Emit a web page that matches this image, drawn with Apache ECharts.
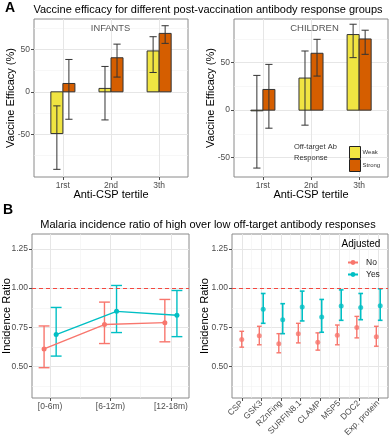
<!DOCTYPE html>
<html><head><meta charset="utf-8">
<script src="https://cdn.jsdelivr.net/npm/echarts@6/dist/echarts.min.js"></script>
<style>html,body{margin:0;padding:0;background:#fff}#c{width:390px;height:440px}</style>
</head><body><div id="c"></div>
<script>
// ---------- DATA ----------
const tertiles = ['1rst', '2nd', '3th'];
const infantsWeak = [-49, 4, 48];
const infantsWeakLow = [-91, -33, 22.7];
const infantsWeakHigh = [-16.5, 29.8, 64.7];
const infantsStrong = [9.8, 40, 68.6];
const infantsStrongLow = [-32.2, 17.3, 56.9];
const infantsStrongHigh = [38, 56, 77.6];
const childrenWeak = [-0.7, 33.8, 79.6];
const childrenWeakLow = [-61, -15.8, 55.3];
const childrenWeakHigh = [36.6, 62.3, 90.5];
const childrenStrong = [21.8, 59.9, 75];
const childrenStrongLow = [-19, 35.9, 58.8];
const childrenStrongHigh = [48.2, 74.6, 84.2];
const efficacyTicks = [-50, 0, 50];
const efficacyMinorTicks = [-75, -25, 25, 75];

const periods = ['[0-6m)', '[6-12m)', '[12-18m)'];
const periodNo = [0.613, 0.768, 0.780];
const periodNoLow = [0.493, 0.647, 0.658];
const periodNoHigh = [0.759, 0.911, 0.928];
const periodYes = [0.704, 0.852, 0.827];
const periodYesLow = [0.567, 0.717, 0.691];
const periodYesHigh = [0.877, 1.017, 0.985];

const antigens = ['CSP', 'GSK3', 'RZnFing', 'SURFIN8.1', 'CLAMP', 'MSP5', 'DOC2', 'Exp. protein'];
const antigenNo = [0.672, 0.696, 0.645, 0.710, 0.656, 0.700, 0.749, 0.691];
const antigenNoLow = [0.624, 0.639, 0.588, 0.651, 0.605, 0.639, 0.683, 0.630];
const antigenNoHigh = [0.725, 0.757, 0.710, 0.776, 0.715, 0.765, 0.820, 0.757];
const antigenYes = [null, 0.865, 0.799, 0.880, 0.816, 0.886, 0.877, 0.888];
const antigenYesLow = [null, 0.776, 0.710, 0.791, 0.719, 0.795, 0.799, 0.795];
const antigenYesHigh = [null, 0.966, 0.901, 0.981, 0.928, 0.989, 0.966, 0.996];
const ratioTicks = [0.50, 0.75, 1.00, 1.25];
const ratioMinorTicks = [0.375, 0.625, 0.875, 1.125];
const referenceRatio = 1.0;

// ---------- STYLE ----------
const FF = '"Liberation Sans", Arial, Helvetica, sans-serif';
const WEAK = '#F0E442', STRONG = '#D55E00', NO = '#F8766D', YES = '#00BFC4';
const MAJOR = '#e6e6e6', MINOR = '#f2f2f2', TICKC = '#4d4d4d', LABC = '#4d4d4d';

const pos = (arr) => arr.map((_, i) => i + 1);
const half = (arr) => arr.slice(1).map((_, i) => i + 1.5);

function barRender(hw) {
  return function (params, api) {
    const x = api.value(0), v = api.value(1);
    const p0 = api.coord([x - hw, 0]);
    const p1 = api.coord([x + hw, v]);
    return {
      type: 'rect',
      shape: { x: Math.min(p0[0], p1[0]), y: Math.min(p0[1], p1[1]),
               width: Math.abs(p1[0] - p0[0]), height: Math.max(Math.abs(p1[1] - p0[1]), 0.5) },
      style: { fill: api.visual('color'), stroke: '#333', lineWidth: 1 }
    };
  };
}
function errRender(cap, color, lw) {
  return function (params, api) {
    const x = api.value(0), lo = api.value(1), hi = api.value(2);
    const a = api.coord([x, lo]), b = api.coord([x, hi]);
    const l1 = api.coord([x - cap, lo]), r1 = api.coord([x + cap, lo]);
    const l2 = api.coord([x - cap, hi]), r2 = api.coord([x + cap, hi]);
    const st = { stroke: color, lineWidth: lw };
    return { type: 'group', children: [
      { type: 'line', shape: { x1: a[0], y1: a[1], x2: b[0], y2: b[1] }, style: st },
      { type: 'line', shape: { x1: l1[0], y1: l1[1], x2: r1[0], y2: r1[1] }, style: st },
      { type: 'line', shape: { x1: l2[0], y1: l2[1], x2: r2[0], y2: r2[1] }, style: st }
    ] };
  };
}

function valueX(gridIndex, min, max, ticks, labels, extra) {
  return Object.assign({
    type: 'value', gridIndex, min, max, position: 'bottom',
    axisLine: { show: false, onZero: false },
    axisTick: { show: true, length: 3, customValues: ticks, lineStyle: { color: TICKC } },
    axisLabel: { customValues: ticks, margin: 4, fontSize: 8.5, color: LABC, fontFamily: FF,
                 formatter: v => labels[Math.round(v) - 1] },
    splitLine: { show: true, lineStyle: { color: MAJOR, width: 1 } }
  }, extra || {});
}
function minorX(gridIndex, min, max, ticks) {
  return { type: 'value', gridIndex, min, max, position: 'bottom',
    axisLine: { show: false, onZero: false }, axisTick: { show: false, customValues: ticks },
    axisLabel: { show: false, customValues: ticks },
    splitLine: { show: true, lineStyle: { color: MINOR, width: 0.6 } } };
}
function valueY(gridIndex, min, max, ticks, fmt, name, nameGap) {
  return {
    type: 'value', gridIndex, min, max, position: 'left', name, nameLocation: 'middle', nameGap,
    nameMoveOverlap: false,
    nameTextStyle: { fontSize: 11, color: '#000', fontFamily: FF },
    axisLine: { show: false, onZero: false },
    axisTick: { show: true, length: 3, customValues: ticks, lineStyle: { color: TICKC } },
    axisLabel: { customValues: ticks, margin: 4, fontSize: 8.5, color: LABC, fontFamily: FF, formatter: fmt },
    splitLine: { show: true, lineStyle: { color: MAJOR, width: 1 } }
  };
}
function minorY(gridIndex, min, max, ticks) {
  return { type: 'value', gridIndex, min, max, position: 'left',
    axisLine: { show: false, onZero: false }, axisTick: { show: false, customValues: ticks },
    axisLabel: { show: false, customValues: ticks },
    splitLine: { show: true, lineStyle: { color: MINOR, width: 0.6 } } };
}

const gridStyle = { show: true, borderColor: '#8a8a8a', borderWidth: 1, backgroundColor: 'transparent' };
const effFmt = v => String(v);
const ratioFmt = v => v.toFixed(2);

function barSeries(name, xi, yi, vals, off, color) {
  return { type: 'custom', name, xAxisIndex: xi, yAxisIndex: yi, renderItem: barRender(0.125),
    itemStyle: { color }, encode: { x: 0, y: 1 }, z: 2,
    data: vals.map((v, i) => [i + 1 + off, v]) };
}
function errSeries(xi, yi, lo, hi, off, cap, color, lw, offFn) {
  const data = [];
  lo.forEach((l, i) => { if (l != null) data.push([i + 1 + (offFn ? offFn(i) : off), l, hi[i]]); });
  return { type: 'custom', xAxisIndex: xi, yAxisIndex: yi, renderItem: errRender(cap, color, lw),
    encode: { x: 0, y: [1, 2] }, z: 3, silent: true, data };
}

const noOff = i => (antigenYes[i] == null ? 0 : -0.1);
const axisName = { nameLocation: 'middle', nameGap: 12, nameMoveOverlap: false,
  nameTextStyle: { fontSize: 11, color: '#000', fontFamily: FF } };

const option = {
  animation: false,
  textStyle: { fontFamily: FF },
  grid: [
    Object.assign({ left: 34, top: 19, width: 154, height: 158 }, gridStyle),
    Object.assign({ left: 234, top: 19, width: 154, height: 158 }, gridStyle),
    Object.assign({ left: 32, top: 234, width: 157, height: 164 }, gridStyle),
    Object.assign({ left: 232, top: 234, width: 156, height: 164 }, gridStyle)
  ],
  xAxis: [
    valueX(0, 0.4, 3.6, pos(tertiles), tertiles, Object.assign({ name: 'Anti-CSP tertile' }, axisName)),
    valueX(1, 0.4, 3.6, pos(tertiles), tertiles, Object.assign({ name: 'Anti-CSP tertile' }, axisName)),
    valueX(2, 0.7, 3.3, pos(periods), periods),
    (function () { const a = valueX(3, 0.5, 8.5, pos(antigens), antigens);
      a.axisLabel.rotate = 45; return a; })(),
    minorX(2, 0.7, 3.3, half(periods)),
    minorX(3, 0.5, 8.5, half(antigens))
  ],
  yAxis: [
    minorY(0, -100, 85.5, efficacyMinorTicks),
    valueY(0, -100, 85.5, efficacyTicks, effFmt, 'Vaccine Efficacy (%)', 17.5),
    minorY(1, -70.4, 96, efficacyMinorTicks),
    valueY(1, -70.4, 96, efficacyTicks, effFmt, 'Vaccine Efficacy (%)', 17.5),
    minorY(2, 0.30, 1.345, ratioMinorTicks),
    valueY(2, 0.30, 1.345, ratioTicks, ratioFmt, 'Incidence Ratio', 19.5),
    minorY(3, 0.30, 1.345, ratioMinorTicks),
    valueY(3, 0.30, 1.345, ratioTicks, ratioFmt, 'Incidence Ratio', 21.5)
  ],
  legend: [
    { orient: 'vertical', left: 344, top: 141, itemWidth: 11, itemHeight: 12, itemGap: 0,
      selectedMode: false, icon: 'rect',
      textStyle: { fontSize: 6, color: '#333', fontFamily: FF, padding: [0, 0, 0, -3] },
      data: [
        { name: 'Weak', itemStyle: { color: WEAK, borderColor: '#222', borderWidth: 1 } },
        { name: 'Strong', itemStyle: { color: STRONG, borderColor: '#222', borderWidth: 1 } }
      ] },
    { orient: 'vertical', left: 342, top: 253, itemWidth: 10, itemHeight: 6, itemGap: 3,
      selectedMode: false,
      textStyle: { fontSize: 8.5, color: '#222', fontFamily: FF, padding: [0, 0, 0, 3] },
      data: ['No', 'Yes'] }
  ],
  graphic: [
    { type: 'text', z: 100, x: 5, y: 8, style: { text: 'A', font: 'bold 14px ' + FF, fill: '#000', align: 'left', verticalAlign: 'middle' } },
    { type: 'text', z: 100, x: 208, y: 9.5, style: { text: 'Vaccine efficacy for different post-vaccination antibody response groups', font: '11px ' + FF, fill: '#000', align: 'center', verticalAlign: 'middle' } },
    { type: 'text', z: 100, x: 110.5, y: 28.5, style: { text: 'INFANTS', font: '9.3px ' + FF, fill: '#555', align: 'center', verticalAlign: 'middle' } },
    { type: 'text', z: 100, x: 314.5, y: 28.5, style: { text: 'CHILDREN', font: '9.5px ' + FF, fill: '#555', align: 'center', verticalAlign: 'middle' } },
    { type: 'text', z: 100, x: 294, y: 146.5, style: { text: 'Off-target Ab', font: '7.5px ' + FF, fill: '#333', align: 'left', verticalAlign: 'middle' } },
    { type: 'text', z: 100, x: 294, y: 158, style: { text: 'Response', font: '7.5px ' + FF, fill: '#333', align: 'left', verticalAlign: 'middle' } },
    { type: 'text', z: 100, x: 3, y: 210, style: { text: 'B', font: 'bold 14px ' + FF, fill: '#000', align: 'left', verticalAlign: 'middle' } },
    { type: 'text', z: 100, x: 208, y: 224.5, style: { text: 'Malaria incidence ratio of high over low off-target antibody responses', font: '11px ' + FF, fill: '#000', align: 'center', verticalAlign: 'middle' } },
    { type: 'text', z: 100, x: 341.5, y: 244.5, style: { text: 'Adjusted', font: '10px ' + FF, fill: '#000', align: 'left', verticalAlign: 'middle' } }
  ],
  series: [
    barSeries('Weak', 0, 1, infantsWeak, -0.125, WEAK),
    barSeries('Strong', 0, 1, infantsStrong, 0.125, STRONG),
    errSeries(0, 1, infantsWeakLow, infantsWeakHigh, -0.125, 0.075, '#333', 1),
    errSeries(0, 1, infantsStrongLow, infantsStrongHigh, 0.125, 0.075, '#333', 1),
    barSeries('Weak', 1, 3, childrenWeak, -0.125, WEAK),
    barSeries('Strong', 1, 3, childrenStrong, 0.125, STRONG),
    errSeries(1, 3, childrenWeakLow, childrenWeakHigh, -0.125, 0.075, '#333', 1),
    errSeries(1, 3, childrenStrongLow, childrenStrongHigh, 0.125, 0.075, '#333', 1),

    { type: 'line', name: 'No', xAxisIndex: 2, yAxisIndex: 5, color: NO, symbol: 'circle', symbolSize: 5,
      lineStyle: { width: 1.4, color: NO }, itemStyle: { color: NO }, z: 4,
      data: periodNo.map((v, i) => [i + 1 - 0.1, v]),
      markLine: { silent: true, symbol: ['none', 'none'], label: { show: false },
        lineStyle: { color: '#f4473f', type: [4, 3], width: 1 }, data: [{ yAxis: referenceRatio }] } },
    { type: 'line', name: 'Yes', xAxisIndex: 2, yAxisIndex: 5, color: YES, symbol: 'circle', symbolSize: 5,
      lineStyle: { width: 1.4, color: YES }, itemStyle: { color: YES }, z: 4,
      data: periodYes.map((v, i) => [i + 1 + 0.1, v]) },
    errSeries(2, 5, periodNoLow, periodNoHigh, -0.1, 0.09, NO, 1.4),
    errSeries(2, 5, periodYesLow, periodYesHigh, 0.1, 0.09, YES, 1.4),

    { type: 'scatter', name: 'No', xAxisIndex: 3, yAxisIndex: 7, symbol: 'circle', symbolSize: 5,
      itemStyle: { color: NO }, z: 4,
      data: antigenNo.map((v, i) => [i + 1 + noOff(i), v]),
      markLine: { silent: true, symbol: ['none', 'none'], label: { show: false },
        lineStyle: { color: '#f4473f', type: [4, 3], width: 1 }, data: [{ yAxis: referenceRatio }] } },
    { type: 'scatter', name: 'Yes', xAxisIndex: 3, yAxisIndex: 7, symbol: 'circle', symbolSize: 5,
      itemStyle: { color: YES }, z: 4,
      data: antigenYes.map((v, i) => [i + 1 + 0.1, v]).filter(d => d[1] != null) },
    errSeries(3, 7, antigenNoLow, antigenNoHigh, 0, 0.12, NO, 1.4, noOff),
    errSeries(3, 7, antigenYesLow, antigenYesHigh, 0.1, 0.12, YES, 1.6)
  ]
};

const chart = echarts.init(document.getElementById('c'), null, { renderer: 'canvas' });
chart.setOption(option);
</script>
</body></html>
